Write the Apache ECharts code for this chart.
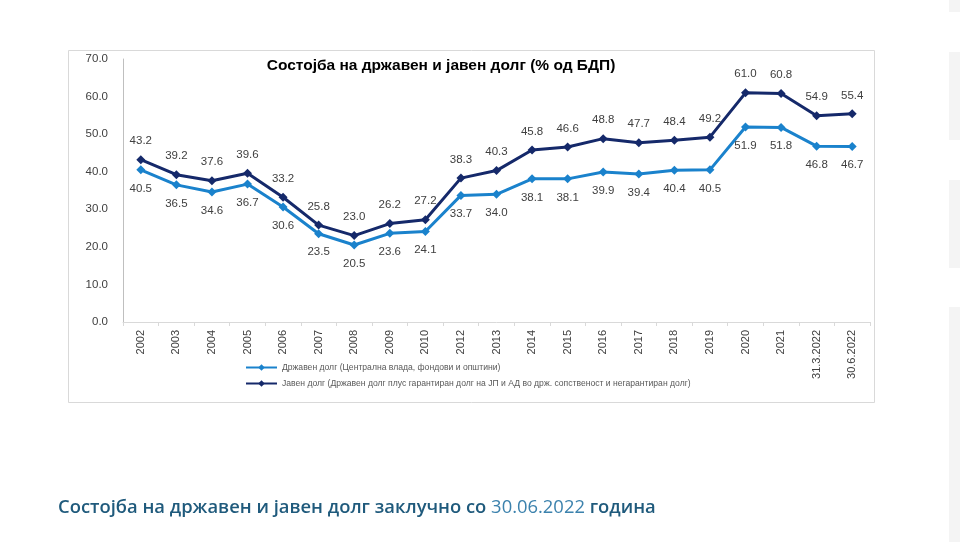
<!DOCTYPE html>
<html>
<head>
<meta charset="utf-8">
<script src="https://cdn.jsdelivr.net/npm/echarts@6/dist/echarts.min.js"></script>
<style>
html,body{margin:0;padding:0;background:#fff;}
#c{width:960px;height:542px;}
</style>
</head>
<body>
<div id="c"></div>
<script>
var categories = ['2002','2003','2004','2005','2006','2007','2008','2009','2010','2012','2013','2014','2015','2016','2017','2018','2019','2020','2021','31.3.2022','30.6.2022'];
var stateDebt = [40.5,36.5,34.6,36.7,30.6,23.5,20.5,23.6,24.1,33.7,34.0,38.1,38.1,39.9,39.4,40.4,40.5,51.9,51.8,46.8,46.7];
var publicDebt = [43.2,39.2,37.6,39.6,33.2,25.8,23.0,26.2,27.2,38.3,40.3,45.8,46.6,48.8,47.7,48.4,49.2,61.0,60.8,54.9,55.4];
var seriesNames = ['Државен долг (Централна влада, фондови и општини)',
  'Јавен долг (Државен долг плус гарантиран долг на ЈП и АД во држ. сопственост и негарантиран долг)'];
var chartTitle = 'Состојба на државен и јавен долг (% од БДП)';
var captionA = 'Состојба на државен и јавен долг заклучно со ';
var captionB = '30.06.2022';
var captionC = ' година';

var chart = echarts.init(document.getElementById('c'));
var labelFont = {fontFamily:'Liberation Sans, Arial, sans-serif', fontSize:11.5, color:'#404040'};
chart.setOption({
  animation:false,
  backgroundColor:'#ffffff',
  title:{text:chartTitle, left:436, top:53, textAlign:'center',
    textStyle:{fontFamily:'Liberation Sans, Arial, sans-serif', fontWeight:'bold', fontSize:15.5, color:'#000'}},
  graphic:[
    {type:'rect', shape:{x:68.5,y:50.5,width:806,height:352}, style:{fill:'none', stroke:'#d9d9d9', lineWidth:1}, z:-10},
    {type:'rect', shape:{x:949,y:0,width:11,height:12}, style:{fill:'#f4f4f4'}, z:-10},
    {type:'rect', shape:{x:949,y:52,width:11,height:88}, style:{fill:'#f4f4f4'}, z:-10},
    {type:'rect', shape:{x:949,y:180,width:11,height:88}, style:{fill:'#f4f4f4'}, z:-10},
    {type:'rect', shape:{x:949,y:307,width:11,height:235}, style:{fill:'#f4f4f4'}, z:-10},
    {type:'text', left:58, top:499, style:{
      text:'{a|'+captionA+'}{b|'+captionB+'}{a|'+captionC+'}',
      rich:{
        a:{fontFamily:'Open Sans, sans-serif', fontSize:18.4, fontWeight:600, fill:'#1f5a7c'},
        b:{fontFamily:'Open Sans, sans-serif', fontSize:18.4, fontWeight:400, fill:'#3c82ad'}
      }}}
  ],
  legend:{orient:'vertical', left:240, top:358, itemGap:7, itemWidth:31, itemHeight:8,
    textStyle:{fontFamily:'Liberation Sans, Arial, sans-serif', fontSize:8.6, color:'#595959'},
    data:seriesNames},
  grid:{left:123, right:90, top:59, bottom:220},
  xAxis:{type:'category', data:categories, boundaryGap:true,
    axisLine:{lineStyle:{color:'#d9d9d9'}},
    axisTick:{show:true, length:4, lineStyle:{color:'#d9d9d9'}},
    axisLabel:{rotate:90, fontFamily:'Liberation Sans, Arial, sans-serif', fontSize:11, color:'#404040', margin:8, interval:0}},
  yAxis:{type:'value', min:0, max:70, interval:10,
    axisLine:{show:true, lineStyle:{color:'#bfbfbf'}},
    axisTick:{show:false},
    splitLine:{show:false},
    axisLabel:Object.assign({formatter:function(v){return v.toFixed(1);}, margin:15}, labelFont)},
  series:[
    {name:seriesNames[0], type:'line', data:stateDebt, symbol:'diamond', symbolSize:9,
      lineStyle:{color:'#1a82cc', width:3}, itemStyle:{color:'#1a82cc'},
      label:Object.assign({show:true, position:'bottom', distance:8, formatter:function(p){return p.value.toFixed(1);}}, labelFont)},
    {name:seriesNames[1], type:'line', data:publicDebt, symbol:'diamond', symbolSize:9,
      lineStyle:{color:'#15296a', width:3}, itemStyle:{color:'#15296a'},
      label:Object.assign({show:true, position:'top', distance:8, formatter:function(p){return p.value.toFixed(1);}}, labelFont)}
  ]
});
</script>
</body>
</html>
